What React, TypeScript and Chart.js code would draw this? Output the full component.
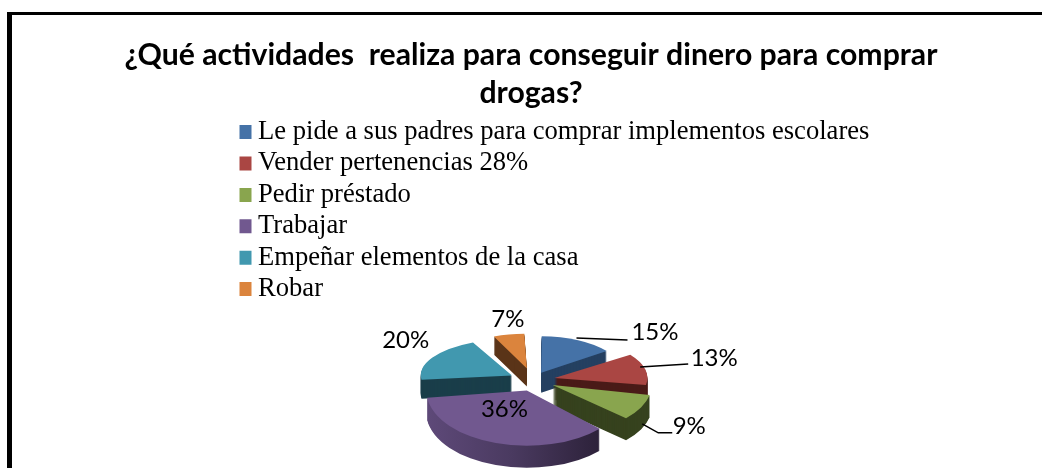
import React, { useEffect, useRef } from "react";
import { Chart, registerables } from "chart.js";

Chart.register(...registerables);

const titleLines = ["¿Qué actividades  realiza para conseguir dinero para comprar", "drogas?"];
const categories = [
  "Le pide a sus padres para comprar implementos escolares",
  "Vender pertenencias 28%",
  "Pedir préstado",
  "Trabajar",
  "Empeñar elementos de la casa",
  "Robar",
];
const values = [15, 13, 9, 36, 20, 7];
const topColors = ["#4572A7", "#AA4643", "#89A54E", "#71588F", "#4198AF", "#DB843D"];
const wallColors = ["#254061", "#4A1B18", "#36421E", "#3F3050", "#1A3E4A", "#5A3418"];
const explode = [18, 22, 22, 20, 24, 28];
const sliceRadius = [78, 87, 89, 96, 90, 67];
const sliceSquash = [0.45, 0.43, 0.5, 0.55, 0.4, 0.42];
const sliceDepth = [20, 22, 22, 22, 19, 18];
const drawOrder = [0, 5, 4, 1, 2, 3];
const labelReach = [120, 117, 117, 115, 119, 120];
const labelShift = [[67.5, -2], [67, -11], [52, 23], [7, -18], [-23, -15], [1, -10]];
const leaders: number[][][] = [
  [[-11, 4], [40, 6]],
  [[-7, -2], [41, -5]],
  [[5, 21], [21, 30], [35, 30]],
  [],
  [],
  [],
];

const HUB_X = 533;
const HUB_Y = 380;
const LABEL_SQUASH = 0.43;

const pie3d = {
  id: "pie3d",
  afterLayout(chart: any) {
    const lg = chart.legend;
    lg.left = 239.5;
    lg.top = 114;
    lg.right = 1000;
    lg.bottom = 460;
    lg.adjustHitBoxes();
  },
  beforeDatasetsDraw(chart: any) {
    const ctx = chart.ctx;
    const els = chart.getDatasetMeta(0).data;
    const paint = (el: any, i: number, color: any, dy: number) => {
      ctx.save();
      ctx.translate(HUB_X, HUB_Y + dy);
      ctx.scale(1, sliceSquash[i]);
      ctx.translate(-el.x, -el.y);
      const proxy = Object.create(el);
      proxy.outerRadius = sliceRadius[i];
      proxy.options = { ...el.options, backgroundColor: color, borderWidth: 0 };
      el.draw.call(proxy, ctx);
      ctx.restore();
    };
    drawOrder.forEach((i) => {
      const el = els[i];
      let wall: any = wallColors[i];
      if (i === 3) {
        const g = ctx.createLinearGradient(el.x - 105, 0, el.x + 75, 0);
        g.addColorStop(0, "#5F4A7A");
        g.addColorStop(0.5, "#4A3A60");
        g.addColorStop(1, "#2C2139");
        wall = g;
      }
      for (let d = sliceDepth[i]; d > 0; d--) paint(el, i, wall, d);
      paint(el, i, topColors[i], 0);
    });
    ctx.save();
    ctx.font = "24px Lato";
    ctx.fillStyle = "#000";
    ctx.strokeStyle = "#000";
    ctx.lineWidth = 1.5;
    ctx.textAlign = "center";
    ctx.textBaseline = "middle";
    const sum = values.reduce((a, b) => a + b, 0);
    let acc = 0;
    values.forEach((v, i) => {
      const mid = ((acc + v / 2) / sum) * 2 * Math.PI;
      acc += v;
      const ax = HUB_X + Math.sin(mid) * labelReach[i];
      const ay = HUB_Y - Math.cos(mid) * labelReach[i] * LABEL_SQUASH;
      const path = leaders[i];
      if (path.length) {
        ctx.beginPath();
        path.forEach((p, k) => (k ? ctx.lineTo(ax + p[0], ay + p[1]) : ctx.moveTo(ax + p[0], ay + p[1])));
        ctx.stroke();
      }
      ctx.fillText(v + "%", ax + labelShift[i][0], ay + labelShift[i][1]);
    });
    ctx.restore();
    return false;
  },
};

export default function App() {
  const ref = useRef<HTMLCanvasElement>(null);
  useEffect(() => {
    document.body.style.margin = "0";
    const chart = new Chart(ref.current as any, {
      type: "pie",
      data: {
        labels: categories,
        datasets: [{ data: values, backgroundColor: topColors, borderWidth: 0, offset: explode.map((o) => o * 4), radius: 95 } as any],
      },
      plugins: [pie3d as any],
      options: {
        responsive: false,
        animation: false,
        layout: { padding: { left: 20 } },
        plugins: {
          tooltip: { enabled: false },
          title: {
            display: true,
            text: titleLines,
            color: "#000",
            font: { family: "Lato", size: 30.2, weight: "bold", lineHeight: 38 / 30.2 },
            padding: { top: 36, bottom: 2 },
          },
          legend: {
            position: "chartArea" as any,
            align: "start",
            labels: {
              color: "#000",
              font: { family: "'Liberation Serif'", size: 26.6 },
              boxWidth: 0.4,
              boxHeight: 0.4,
              padding: 4.8,
              generateLabels: () =>
                categories.map((t, i) => ({
                  text: t,
                  fillStyle: topColors[i],
                  strokeStyle: topColors[i],
                  lineWidth: 13.6,
                  lineJoin: "miter",
                  hidden: false,
                  index: i,
                })),
            },
          },
        },
      },
    } as any);
    return () => chart.destroy();
  }, []);
  return (
    <div style={{ position: "relative", width: 1042, height: 468, overflow: "hidden", background: "#fff" }}>
      <div style={{ position: "absolute", left: 7, top: 12, right: -10, bottom: -10, borderLeft: "5px solid #000", borderTop: "3px solid #000" }} />
      <canvas ref={ref} width={1042} height={468} style={{ position: "absolute", left: 0, top: 0, display: "block" }} />
    </div>
  );
}
